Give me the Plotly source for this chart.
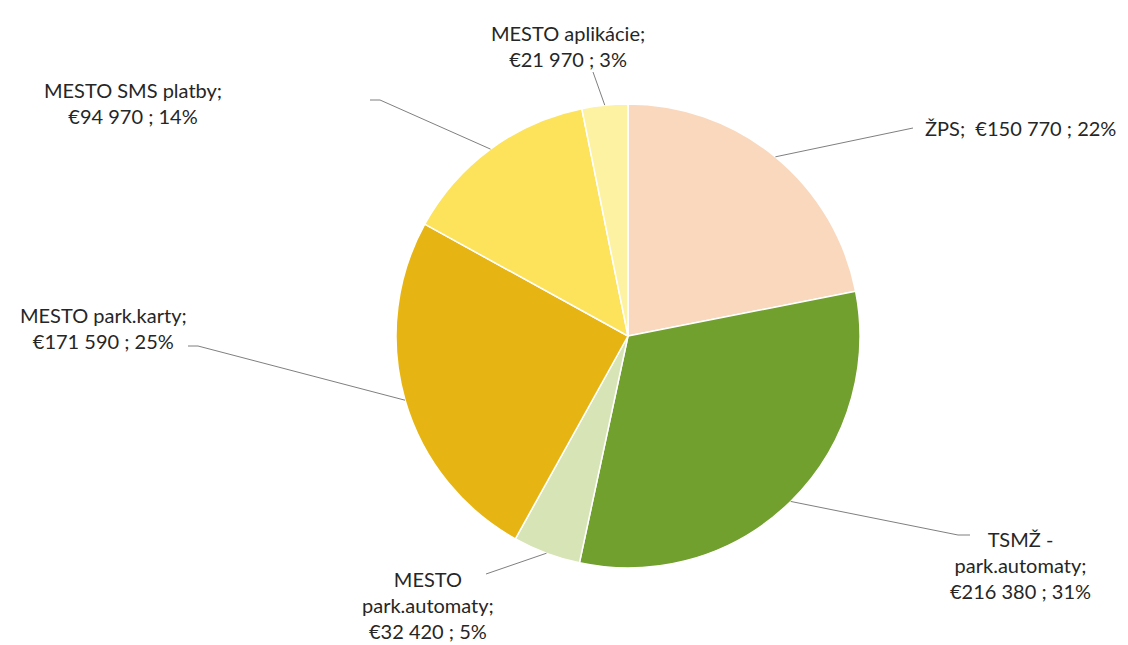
import numpy as np
import plotly.graph_objects as go

labels = ["ŽPS", "TSMŽ - park.automaty", "MESTO park.automaty", "MESTO park.karty",
          "MESTO SMS platby", "MESTO aplikácie"]
values = [150770, 216380, 32420, 171590, 94970, 21970]
percents = ["22%", "31%", "5%", "25%", "14%", "3%"]
label_texts = [
    "ŽPS;  €150 770 ; 22%",
    "TSMŽ -<br>park.automaty;<br>€216 380 ; 31%",
    "MESTO<br>park.automaty;<br>€32 420 ; 5%",
    "MESTO park.karty;<br>€171 590 ; 25%",
    "MESTO SMS platby;<br>€94 970 ; 14%",
    "MESTO aplikácie;<br>€21 970 ; 3%",
]
colors = ["#F9D8BE", "#71A02F", "#D7E4B6", "#E7B513", "#FCE35B", "#FDF1A2"]

W, H = 1128, 645
cx, cy, r = 620, 328, 232  # pixel geometry of the pie

# label placement (pixels): text anchor, leader-line end, alignment
label_pos = [
    dict(tx=915, ty=120, xa="left", lx=[905], ly=[120]),
    dict(tx=1012, ty=557, xa="center", lx=[950, 962], ly=[527, 527]),
    dict(tx=420, ty=597, xa="center", lx=[478], ly=[566]),
    dict(tx=95, ty=320, xa="center", lx=[190, 180], ly=[338, 338]),
    dict(tx=125, ty=95, xa="center", lx=[372, 362], ly=[92, 92]),
    dict(tx=560, ty=38, xa="center", lx=[585], ly=[64]),
]

fig = go.Figure(go.Pie(
    labels=labels, values=values, sort=False, direction="clockwise", rotation=0,
    marker=dict(colors=colors, line=dict(color="white", width=1.5)),
    textinfo="none", hoverinfo="label+value+percent", showlegend=False,
    domain=dict(x=[(cx - r) / W, (cx + r) / W],
                y=[1 - (cy + r) / H, 1 - (cy - r) / H]),
))

vals = np.array(values, dtype=float)
frac = vals / vals.sum()
mids = (np.cumsum(frac) - frac / 2) * 2 * np.pi

def px2paper(x, y):
    return x / W, 1 - y / H

for i, lp in enumerate(label_pos):
    ex = cx + r * np.sin(mids[i])
    ey = cy - r * np.cos(mids[i])
    pts = [(ex, ey)] + list(zip(lp["lx"], lp["ly"]))
    for (x0, y0), (x1, y1) in zip(pts[:-1], pts[1:]):
        a0, b0 = px2paper(x0, y0)
        a1, b1 = px2paper(x1, y1)
        fig.add_shape(type="line", xref="paper", yref="paper",
                      x0=a0, y0=b0, x1=a1, y1=b1,
                      line=dict(color="#7F7F7F", width=1))
    ax_, ay_ = px2paper(lp["tx"], lp["ty"])
    fig.add_annotation(x=ax_, y=ay_, xref="paper", yref="paper",
                       text=label_texts[i], showarrow=False,
                       xanchor=lp["xa"], yanchor="middle", align="center",
                       font=dict(family="Lato, Open Sans, sans-serif", size=20, color="#262626"))

fig.update_layout(width=W, height=H, margin=dict(l=0, r=0, t=0, b=0),
                  paper_bgcolor="white", plot_bgcolor="white")
fig.write_html("out.html")
